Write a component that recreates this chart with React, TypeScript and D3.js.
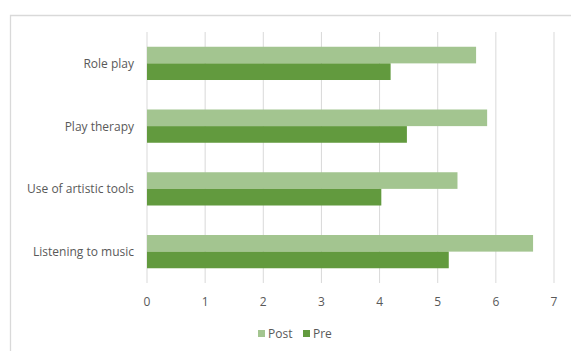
import React from "react";
import * as d3 from "d3";

const categories = ["Role play", "Play therapy", "Use of artistic tools", "Listening to music"];
const seriesNames = ["Post", "Pre"];
const postValues = [5.66, 5.85, 5.34, 6.64];
const preValues = [4.19, 4.47, 4.03, 5.19];
const xTicks = [0, 1, 2, 3, 4, 5, 6, 7];
const colors = ["#A3C590", "#629A3E"];

const W = 571;
const H = 351;
const M = { left: 147, right: 554, top: 32, bottom: 283 };
const FONT = "'Open Sans', sans-serif";
const TXT = "#595959";

export default function App() {
  const x = d3.scaleLinear().domain([0, 7]).range([M.left, M.right]);
  const y = d3.scaleBand<string>().domain(categories).range([M.top, M.bottom]).paddingInner(0.47).paddingOuter(0.235);
  const ySub = d3.scaleBand<string>().domain(seriesNames).range([0, y.bandwidth()]);
  const series = [postValues, preValues];

  return (
    <svg width={W} height={H} style={{ position: "absolute", left: 0, top: 0, display: "block" }}>
      <rect x={0} y={0} width={W} height={H} fill="#fff" />
      <path d={`M10.5,${H + 2} V15.5 H${W + 2}`} fill="none" stroke="#D9D9D9" strokeWidth={1.3} />
      {xTicks.map((t) => (
        <line key={t} x1={x(t)} x2={x(t)} y1={M.top} y2={M.bottom} stroke="#D9D9D9" strokeWidth={1} />
      ))}
      {categories.map((c, i) =>
        seriesNames.map((s, j) => (
          <rect
            key={c + s}
            x={x(0)}
            y={(y(c) as number) + (ySub(s) as number)}
            width={x(series[j][i]) - x(0)}
            height={ySub.bandwidth()}
            fill={colors[j]}
          />
        ))
      )}
      {categories.map((c) => (
        <text
          key={c}
          x={134}
          y={(y(c) as number) + y.bandwidth() / 2 + 4.5}
          textAnchor="end"
          fontFamily={FONT}
          fontSize={12}
          fill={TXT}
        >
          {c}
        </text>
      ))}
      {xTicks.map((t) => (
        <text key={t} x={x(t)} y={306} textAnchor="middle" fontFamily={FONT} fontSize={12} fill={TXT}>
          {t}
        </text>
      ))}
      <g>
        <rect x={258} y={330} width={7} height={7} fill={colors[0]} />
        <text x={268} y={338} fontFamily={FONT} fontSize={12} fill={TXT}>
          Post
        </text>
        <rect x={303} y={330} width={7} height={7} fill={colors[1]} />
        <text x={313} y={338} fontFamily={FONT} fontSize={12} fill={TXT}>
          Pre
        </text>
      </g>
    </svg>
  );
}
